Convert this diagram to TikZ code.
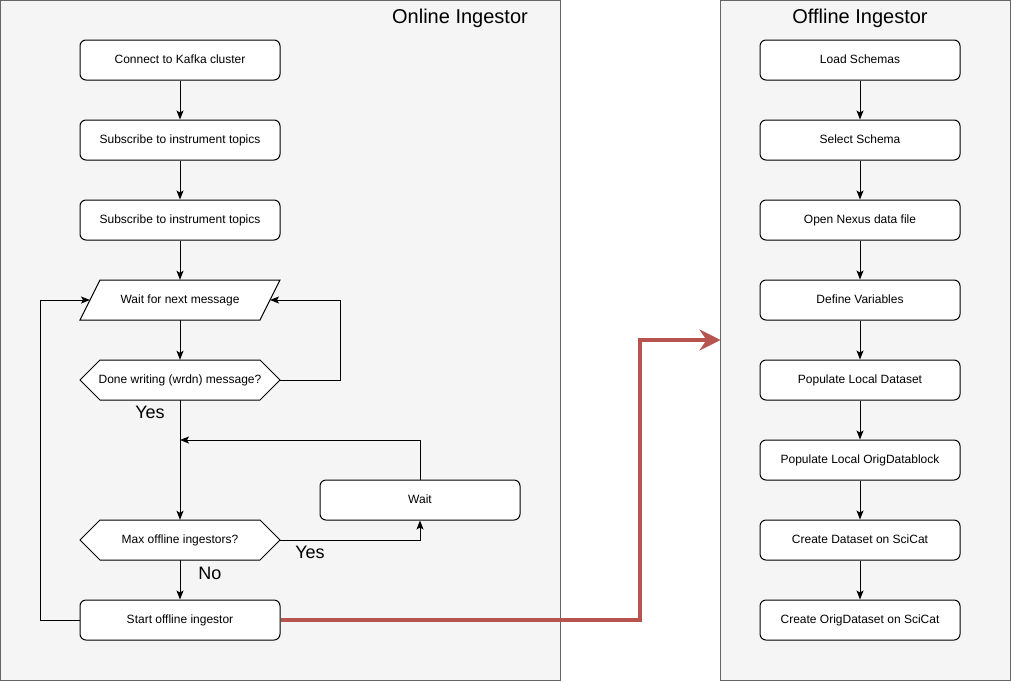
\documentclass[tikz,border=0pt]{standalone}
\usepackage{fontspec}
\setmainfont{Liberation Sans}
\usetikzlibrary{arrows.meta}
\definecolor{cbg}{HTML}{F5F5F5}
\definecolor{cborder}{HTML}{666666}
\definecolor{cred}{HTML}{B85450}
\tikzset{
  container/.style={draw=cborder, fill=cbg, line width=1pt},
  box/.style={draw, fill=white, rounded corners=6pt, minimum width=200pt, minimum height=40pt, line width=1pt, font=\fontsize{12}{14}\selectfont, text height=8.6pt, text depth=2.4pt},
  txt/.style={minimum width=200pt, minimum height=40pt, inner sep=0pt, font=\fontsize{12}{14}\selectfont, text height=8.6pt, text depth=2.4pt},
  shp/.style={draw, fill=white, line width=1pt, line join=miter},
  arr/.style={-{Stealth[length=9pt,width=7pt,inset=2pt]}, line width=1pt},
  bigarr/.style={-{Stealth[length=21pt,width=21pt,inset=7pt]}, draw=cred, line width=4pt},
  title/.style={font=\fontsize{20}{24}\selectfont},
  lbl/.style={font=\fontsize{18}{22}\selectfont},
}
\begin{document}
\begin{tikzpicture}[x=1pt,y=-1pt]
\useasboundingbox (0,0) rectangle (1011,681);
% containers
\draw[container] (0.5,0.5) rectangle (560.5,680.5);
\draw[container] (720.5,0.5) rectangle (1010.5,680.5);
\node[title] (ttlon) at (460,18) {Online Ingestor};
\node[title] (ttloff) at (860,18) {Offline Ingestor};

% online column
\node[box] (kafka) at (180,60) {Connect to Kafka cluster};
\node[box] (sub1) at (180,140) {Subscribe to instrument topics};
\node[box] (sub2) at (180,220) {Subscribe to instrument topics};
\draw[shp] (100,280) -- (280,280) -- (260,320) -- (80,320) -- cycle;
\node[txt] (waitmsg) at (180,300) {Wait for next message};
\coordinate (wml) at (90,300);
\coordinate (wmr) at (270,300);
\draw[shp] (80,380) -- (100,360) -- (260,360) -- (280,380) -- (260,400) -- (100,400) -- cycle;
\node[txt] (done) at (180,380) {Done writing (wrdn) message?};
\draw[shp] (80,540) -- (100,520) -- (260,520) -- (280,540) -- (260,560) -- (100,560) -- cycle;
\node[txt] (maxoff) at (180,540) {Max offline ingestors?};
\node[box] (wait) at (420,500) {Wait};
\node[box] (start) at (180,620) {Start offline ingestor};
\coordinate (join) at (180,440);

\draw[arr] (kafka) -- (sub1);
\draw[arr] (sub1) -- (sub2);
\draw[arr] (sub2) -- (waitmsg.north);
\draw[arr] (waitmsg.south) -- (done.north);
\draw[arr] (done.east) -- (340,380) -- (340,300) -- (wmr);
\draw[arr] (start.west) -- (40,620) -- (40,300) -- (wml);
\draw[arr] (done.south) -- (maxoff.north);
\draw[arr] (wait.north) |- (join);
\draw[arr] (maxoff.east) -| (wait.south);
\draw[arr] (maxoff.south) -- (start.north);
\node[lbl] (yes1) at (150,412) {Yes};
\node[lbl] (yes2) at (310,552) {Yes};
\node[lbl] (no1) at (210,573) {No};

% offline column
\node[box] (o1) at (860,60) {Load Schemas};
\node[box] (o2) at (860,140) {Select Schema};
\node[box] (o3) at (860,220) {Open Nexus data file};
\node[box] (o4) at (860,300) {Define Variables};
\node[box] (o5) at (860,380) {Populate Local Dataset};
\node[box] (o6) at (860,460) {Populate Local OrigDatablock};
\node[box] (o7) at (860,540) {Create Dataset on SciCat};
\node[box] (o8) at (860,620) {Create OrigDataset on SciCat};
\foreach \a/\b in {o1/o2,o2/o3,o3/o4,o4/o5,o5/o6,o6/o7,o7/o8}
  \draw[arr] (\a) -- (\b);

% cross link
\coordinate (offin) at (720.5,340);
\draw[bigarr] (start.east) -- (640,620) -- (640,340) -- (offin);
\end{tikzpicture}
\end{document}
